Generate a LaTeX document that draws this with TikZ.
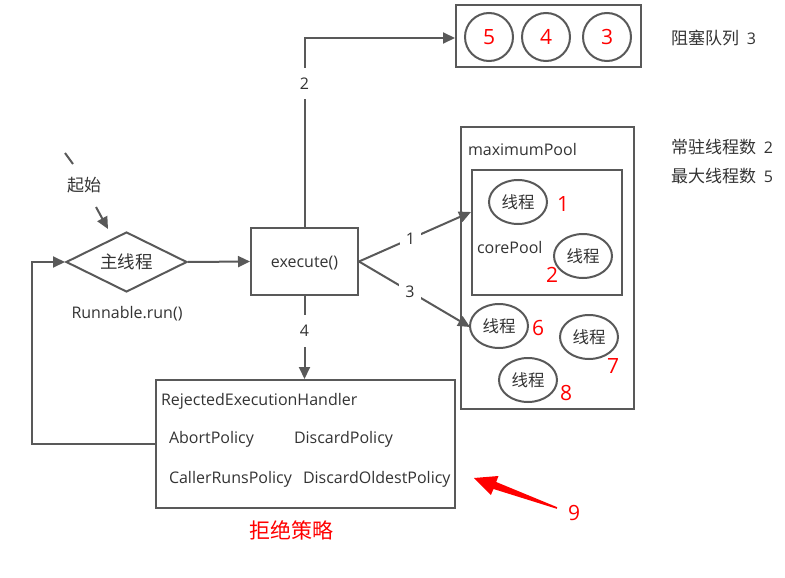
\documentclass[tikz,border=0pt]{standalone}
\usepackage{fontspec}
\setmainfont{Open Sans}
\newfontfamily\cjk{Noto Sans CJK SC}
\usetikzlibrary{arrows.meta,shapes.geometric}
\definecolor{ln}{HTML}{595959}
\definecolor{tx}{HTML}{333333}
\definecolor{rd}{HTML}{FF0000}
\begin{document}
\begin{tikzpicture}[x=1pt,y=-1pt,
  line width=2pt, draw=ln,
  arr/.style={draw=ln,line width=2pt,-{Triangle[length=12pt,width=11pt]}},
  plain/.style={draw=ln,line width=2pt},
  box/.style={draw=ln,line width=2pt,rectangle,inner sep=0pt},
  txt/.style={text=tx,font=\fontsize{16}{18}\selectfont,inner sep=0pt,yshift=-2pt},
  ctxt/.style={text=tx,font=\cjk\fontsize{17}{19}\selectfont,inner sep=0pt},
  lbl/.style={fill=white,text=tx,font=\fontsize{16}{18}\selectfont,inner xsep=6pt,inner ysep=10pt},
  rnum/.style={text=rd,font=\fontsize{21}{23}\selectfont,inner sep=0pt},
  thr/.style={draw=ln,line width=2pt,ellipse,minimum width=58pt,minimum height=44pt,inner sep=0pt,text=tx,font=\cjk\fontsize{16.5}{18}\selectfont},
  circ/.style={draw=ln,line width=2pt,circle,minimum size=48pt,inner sep=0pt,text=rd,font=\fontsize{21}{23}\selectfont}]
\useasboundingbox (0,0) rectangle (785,578);

% start marker
\coordinate (s1) at (65,153);
\coordinate (s2) at (73,164);
\draw[plain] (s1) -- (s2);
\node[ctxt] (start) at (84,185) {起始};
\coordinate (s3) at (96,207);
\node[diamond,draw=ln,line width=2pt,minimum width=121pt,minimum height=60pt,aspect=2,inner sep=0pt,text=tx,font=\cjk\fontsize{17.5}{19}\selectfont] (main) at (126.5,262) {主线程};
\draw[arr] (s3) -- (108,229);
\node[txt] (run) at (127,312) {Runnable.run()};

% execute
\node[box,minimum width=107pt,minimum height=67pt,draw=ln,line width=2pt] (exec) at (304.5,261.5) {};
\node[txt] (exect) at (304.5,261.5) {execute()};
\draw[arr] (main.east) -- (exec.west);

% queue
\node[box,minimum width=185pt,minimum height=62pt] (queue) at (548.5,36) {};
\node[circ] (c5) at (489,37) {5};
\node[circ] (c4) at (546,37) {4};
\node[circ] (c3) at (607,37) {3};
\node[ctxt,anchor=west] (qlbl) at (670,38) {阻塞队列 {\fontfamily{\familydefault}\selectfont\fontsize{16}{18}\selectfont\ 3}};
\coordinate (corner) at (304.5,38);
\coordinate (qin) at (455,38);
\draw[arr] (exec.north) -- node[lbl,pos=0.76]{2} (corner) -- (qin);

% pools
\node[box,minimum width=173pt,minimum height=282pt] (maxp) at (547.5,268) {};
\node[txt,anchor=west] (maxl) at (467,147) {maximumPool};
\node[box,minimum width=150pt,minimum height=125pt] (core) at (547,232.5) {};
\node[txt,anchor=west] (corel) at (476,245) {corePool};
\node[thr] (t1) at (518,202) {线程};
\node[rnum] (n1) at (563,204) {1};
\node[thr] (t2) at (583,256) {线程};
\node[rnum] (n2) at (552,275) {2};
\node[thr] (t6) at (499,326) {线程};
\node[rnum] (n6) at (538,328) {6};
\node[thr] (t7) at (589,337) {线程};
\node[rnum] (n7) at (613,366) {7};
\node[thr] (t8) at (528,380) {线程};
\node[rnum] (n8) at (566,393) {8};
\node[ctxt,anchor=west] (cs) at (670,147) {常驻线程数 {\fontfamily{\familydefault}\selectfont\fontsize{16}{18}\selectfont\ 2}};
\node[ctxt,anchor=west] (mx) at (670,176) {最大线程数 {\fontfamily{\familydefault}\selectfont\fontsize{16}{18}\selectfont\ 5}};

\coordinate (a1) at (471,212);
\coordinate (a3) at (470,327);
\draw[arr] (exec.east) -- node[lbl,pos=0.46]{1} (a1);
\draw[arr] (exec.east) -- node[lbl,pos=0.46]{3} (a3);

% reject
\node[box,minimum width=299pt,minimum height=128pt] (rej) at (305.5,444) {};
\draw[arr] (exec.south) -- node[lbl,pos=0.42]{4} (exec.south |- rej.north);
\node[txt,anchor=west] (rh) at (160,399) {RejectedExecutionHandler};
\node[txt,anchor=west] (p1) at (168,437) {AbortPolicy};
\node[txt,anchor=west] (p2) at (293,437) {DiscardPolicy};
\node[txt,anchor=west] (p3) at (168,477) {CallerRunsPolicy};
\node[txt,anchor=west] (p4) at (302,477) {DiscardOldestPolicy};
\coordinate (lp) at (32,444);
\draw[arr] (rej.west) -- (lp) |- (main.west);
\node[text=rd,font=\cjk\fontsize{21}{23}\selectfont,inner sep=0pt] (rl) at (291,530) {拒绝策略};

% red arrow
\fill[rd] (474,478) -- (498.5,476.0) -- (496.2,482.0) -- (557.2,507.2) -- (556.8,508.8) -- (493.5,489.0) -- (490.9,495.0) -- cycle;
\node[rnum] (n9) at (574,513) {9};
\end{tikzpicture}
\end{document}
